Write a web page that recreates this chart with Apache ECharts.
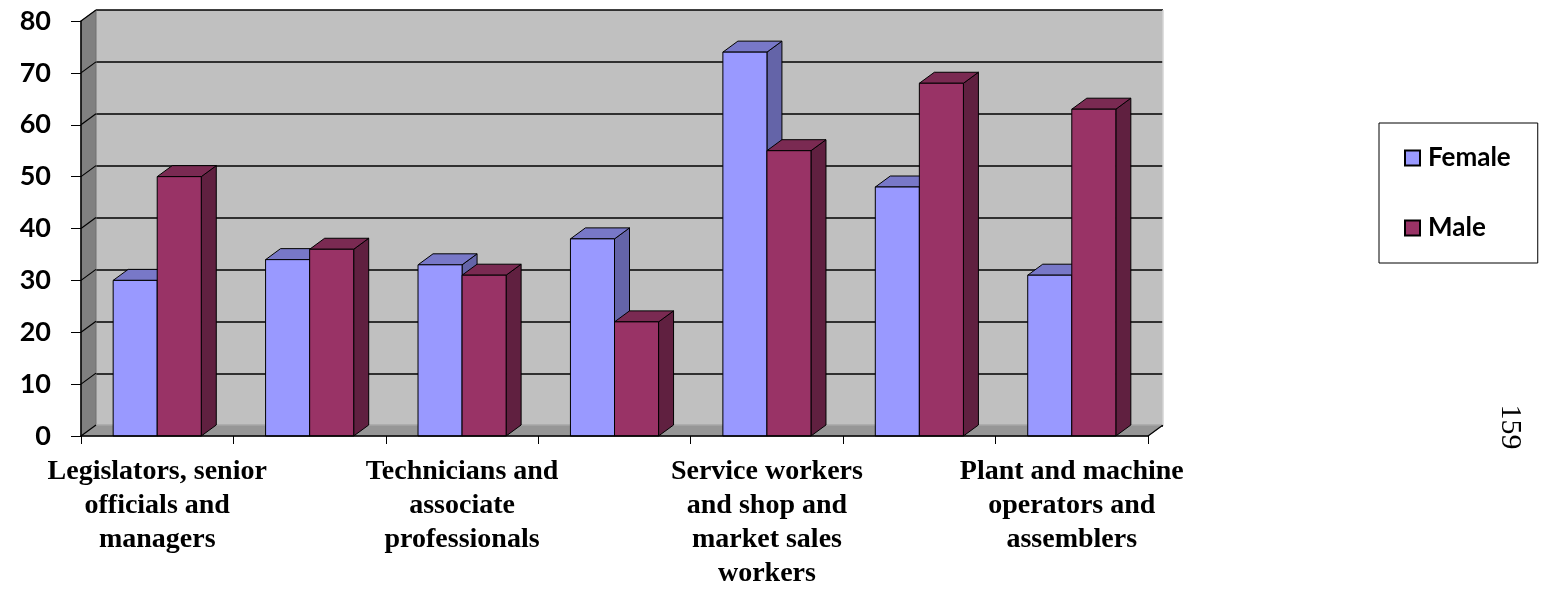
<!DOCTYPE html>
<html>
<head>
<meta charset="utf-8">
<script src="https://cdn.jsdelivr.net/npm/echarts@6/dist/echarts.min.js"></script>
<style>
  html, body { margin: 0; padding: 0; background: #fff; }
  #chart { width: 1549px; height: 591px; }
</style>
</head>
<body>
<div id="chart"></div>
<script>
// Occupational groups (labels on alternate groups are shown under the axis)
const categories = [
  'Legislators, senior\nofficials and\nmanagers',
  'Professionals',
  'Technicians and\nassociate\nprofessionals',
  'Clerks',
  'Service workers\nand shop and\nmarket sales\nworkers',
  'Craft and related\ntrades workers',
  'Plant and machine\noperators and\nassemblers'
];
const female = [30, 34, 33, 38, 74, 48, 31];
const male   = [50, 36, 31, 22, 55, 68, 63];
const yTicks = [0, 10, 20, 30, 40, 50, 60, 70, 80];

// depth of the pseudo-3D extrusion, in pixels
const DX = 15, DY = -11;
const BAR_FRACTION = 0.289;

const palette = {
  Female: { front: '#9999FF', top: '#7878C8', side: '#6464A8' },
  Male:   { front: '#993366', top: '#7A2A52', side: '#602040' }
};

function barRenderer(name, offsetSide) {
  const c = palette[name];
  return function (params, api) {
    const cat = api.value(0);
    const v = api.value(1);
    const base = api.coord([cat, 0]);
    const top = api.coord([cat, v]);
    const band = api.size([1, 0])[0];
    const w = band * BAR_FRACTION;
    const x0 = offsetSide ? base[0] : base[0] - w;
    const yt = top[1], yb = base[1];
    const stroke = { stroke: '#000', lineWidth: 1 };
    return {
      type: 'group',
      children: [
        { type: 'polygon', shape: { points: [[x0 + w, yt], [x0 + w + DX, yt + DY], [x0 + w + DX, yb + DY], [x0 + w, yb]] },
          style: Object.assign({ fill: c.side }, stroke) },
        { type: 'polygon', shape: { points: [[x0, yt], [x0 + DX, yt + DY], [x0 + w + DX, yt + DY], [x0 + w, yt]] },
          style: Object.assign({ fill: c.top }, stroke) },
        { type: 'rect', shape: { x: x0, y: yt, width: w, height: yb - yt },
          style: Object.assign({ fill: c.front }, stroke) }
      ]
    };
  };
}

// Side wall, floor and the slanted grid marks on the side wall
function wallRenderer(params, api) {
  const v = api.value(0);
  const p = api.coord([0, v]);
  const band = api.size([1, 0])[0];
  const xl = p[0] - band / 2;
  const children = [];
  if (params.dataIndex === 0) {
    const pTop = api.coord([0, 80]);
    const pEnd = api.coord([categories.length - 1, 0]);
    const xr = pEnd[0] + band / 2;
    children.push({ type: 'polygon', shape: { points: [[xl, pTop[1]], [xl + DX, pTop[1] + DY], [xl + DX, p[1] + DY], [xl, p[1]]] },
      style: { fill: '#808080', stroke: '#707070', lineWidth: 1 } });
    children.push({ type: 'polygon', shape: { points: [[xl, p[1]], [xl + DX, p[1] + DY], [xr + DX, p[1] + DY], [xr, p[1]]] },
      style: { fill: '#969696', stroke: '#8a8a8a', lineWidth: 1 } });
    children.push({ type: 'line', shape: { x1: xl + DX, y1: p[1] + DY, x2: xr + DX, y2: p[1] + DY },
      style: { stroke: '#b4b4b4', lineWidth: 1 } });
    children.push({ type: 'line', shape: { x1: xr, y1: p[1], x2: xr + DX, y2: p[1] + DY },
      style: { stroke: '#000', lineWidth: 1.2 } });
    children.push({ type: 'line', shape: { x1: xr + DX, y1: pTop[1] + DY, x2: xr + DX, y2: p[1] + DY },
      style: { stroke: '#d4d4d4', lineWidth: 1.5 } });
  }
  children.push({ type: 'line', shape: { x1: xl, y1: p[1], x2: xl + DX, y2: p[1] + DY },
    style: { stroke: '#000', lineWidth: 1.2 } });
  return { type: 'group', children: children };
}

const chart = echarts.init(document.getElementById('chart'), null, { renderer: 'canvas' });

chart.setOption({
  animation: false,
  backgroundColor: '#ffffff',
  grid: [
    { left: 81, right: 401, top: 21, bottom: 154, containLabel: false },
    { left: 96, right: 386, top: 10, bottom: 165, containLabel: false, show: true,
      backgroundColor: '#C0C0C0', borderWidth: 0, z: 0 }
  ],
  xAxis: [
    {
      type: 'category', gridIndex: 0, data: categories, boundaryGap: true, z: 5,
      axisLine: { show: true, lineStyle: { color: '#000', width: 1.5 } },
      axisTick: { show: true, interval: 0, length: 8, lineStyle: { color: '#000', width: 1 } },
      axisLabel: {
        interval: 1, margin: 19, color: '#000',
        fontFamily: 'Liberation Serif', fontWeight: 'bold', fontSize: 28, lineHeight: 34
      },
      splitLine: { show: false }
    },
    { type: 'category', gridIndex: 1, data: categories, show: false }
  ],
  yAxis: [
    {
      type: 'value', gridIndex: 0, min: 0, max: 80, interval: 10, z: 5,
      axisLine: { show: true, lineStyle: { color: '#000', width: 1.5 } },
      axisTick: { show: true, length: 10, lineStyle: { color: '#000', width: 1 } },
      axisLabel: { margin: 30, color: '#000', fontFamily: 'Lato', fontWeight: 'bold', fontSize: 27 },
      splitLine: { show: false }
    },
    {
      type: 'value', gridIndex: 1, min: 0, max: 80, interval: 10,
      axisLine: { show: false }, axisTick: { show: false }, axisLabel: { show: false },
      splitLine: { show: true, lineStyle: { color: '#000', width: 1.5 } }
    }
  ],
  legend: {
    orient: 'vertical', left: 1379, top: 123,
    padding: [22, 27, 22, 25], itemGap: 44,
    itemWidth: 15, itemHeight: 15,
    borderColor: '#000', borderWidth: 1, backgroundColor: '#fff',
    data: [
      { name: 'Female', icon: 'rect', itemStyle: { color: palette.Female.front, borderColor: '#000', borderWidth: 2 } },
      { name: 'Male', icon: 'rect', itemStyle: { color: palette.Male.front, borderColor: '#000', borderWidth: 2 } }
    ],
    textStyle: { fontFamily: 'Lato', fontWeight: 'bold', fontSize: 26, color: '#000', lineHeight: 26, padding: [0, 0, 0, 3] }
  },
  series: [
    {
      name: 'walls', type: 'custom', xAxisIndex: 0, yAxisIndex: 0, z: 1, silent: true,
      renderItem: wallRenderer,
      encode: { y: 0 },
      data: yTicks.map(v => [v])
    },
    {
      name: 'Female', type: 'custom', xAxisIndex: 0, yAxisIndex: 0, z: 2,
      itemStyle: { color: palette.Female.front },
      renderItem: barRenderer('Female', false),
      encode: { x: 0, y: 1 },
      data: female.map((v, i) => [i, v])
    },
    {
      name: 'Male', type: 'custom', xAxisIndex: 0, yAxisIndex: 0, z: 3,
      itemStyle: { color: palette.Male.front },
      renderItem: barRenderer('Male', true),
      encode: { x: 0, y: 1 },
      data: male.map((v, i) => [i, v])
    }
  ],
  graphic: [
    {
      type: 'text', x: 1510, y: 427, rotation: -Math.PI / 2,
      style: { text: '159', fontFamily: 'Liberation Serif', fontSize: 30, fill: '#000',
               align: 'center', verticalAlign: 'middle' }
    }
  ]
});
</script>
</body>
</html>
